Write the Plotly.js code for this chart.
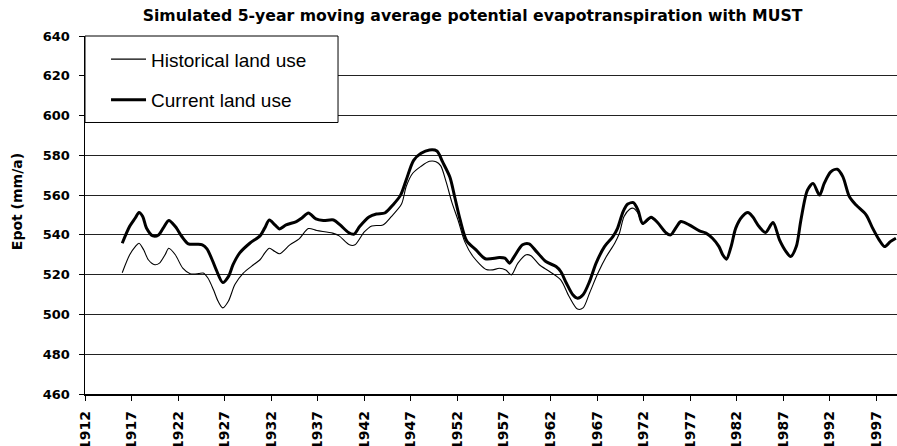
<!DOCTYPE html>
<html>
<head>
<meta charset="utf-8">
<script src="https://cdn.plot.ly/plotly-3.0.1.min.js"></script>
<style>
  html, body { margin: 0; padding: 0; background: #fff; }
  #chart { width: 897px; height: 446px; }
</style>
</head>
<body>
<div id="chart"></div>
<script>
// Years (fractional) and 5-year moving average Epot (mm/a)
var yearsCurrent = [1916.0, 1916.8, 1917.4, 1917.8, 1918.2, 1918.6, 1919.3, 1919.9, 1920.4, 1921.0,
  1921.7, 1922.4, 1923.1, 1924.0, 1924.6, 1925.1, 1925.7, 1926.1, 1926.8, 1927.4,
  1927.9, 1928.6, 1929.7, 1930.8, 1931.3, 1931.8, 1932.4, 1932.9, 1933.6, 1934.7,
  1935.3, 1936.0, 1936.8, 1937.6, 1938.7, 1939.4, 1940.3, 1940.9, 1941.5, 1942.5,
  1943.3, 1944.2, 1945.1, 1945.9, 1946.5, 1947.3, 1948.1, 1949.0, 1949.8, 1950.4,
  1951.2, 1951.7, 1952.3, 1953.0, 1954.0, 1955.0, 1956.5, 1957.1, 1957.6, 1958.1,
  1959.0, 1959.7, 1960.5, 1961.5, 1962.6, 1963.1, 1963.7, 1964.4, 1964.9, 1965.5,
  1966.2, 1966.9, 1967.8, 1968.7, 1969.2, 1969.8, 1970.3, 1970.9, 1971.4, 1971.9,
  1972.8, 1973.5, 1974.4, 1974.9, 1975.5, 1976.0, 1976.9, 1978.0, 1978.7, 1979.4,
  1980.1, 1980.5, 1980.9, 1981.4, 1981.9, 1982.6, 1983.2, 1983.7, 1984.4, 1985.1,
  1985.9, 1986.6, 1987.3, 1987.8, 1988.4, 1988.9, 1989.6, 1990.2, 1990.9, 1991.4,
  1992.1, 1992.8, 1993.4, 1994.1, 1994.8, 1995.9, 1996.6, 1997.3, 1997.9, 1998.5,
  1999.1];
var epotCurrent = [535.8, 544.3, 548.5, 551.3, 549.3, 543.5, 539.5, 540.0, 543.4, 547.2,
  544.2, 539.2, 535.5, 535.3, 535.0, 533.0, 527.0, 522.4, 516.0, 519.0,
  525.0, 530.8, 535.8, 539.5, 543.4, 547.5, 545.0, 543.0, 545.0, 546.7,
  548.5, 551.0, 548.0, 547.2, 547.5, 545.0, 541.2, 540.4, 544.2, 549.0,
  550.5, 551.0, 555.2, 560.0, 567.6, 577.5, 581.0, 582.7, 582.2, 576.8,
  569.0, 559.3, 547.5, 537.0, 532.5, 528.0, 528.6, 528.3, 525.8, 529.1,
  535.0, 535.5, 531.6, 526.6, 524.1, 521.6, 515.8, 509.9, 508.2, 509.9,
  516.6, 525.8, 534.1, 539.1, 543.3, 551.7, 555.5, 556.2, 552.5, 545.8,
  548.9, 546.2, 541.1, 540.0, 543.8, 546.7, 545.0, 542.0, 540.9, 538.3,
  534.1, 530.0, 527.8, 534.1, 543.4, 549.2, 551.2, 549.2, 544.2, 541.2,
  546.2, 537.5, 531.6, 529.1, 534.1, 547.5, 562.5, 565.9, 560.0, 565.9,
  571.7, 573.0, 569.3, 559.3, 555.1, 550.1, 543.4, 537.5, 534.1, 536.6,
  538.3];

var yearsHistorical = [1916.0, 1916.8, 1917.4, 1917.8, 1918.3, 1918.8, 1919.5, 1920.0, 1920.6, 1921.0,
  1921.7, 1922.5, 1923.3, 1924.2, 1924.7, 1925.2, 1925.8, 1926.3, 1926.8, 1927.4,
  1928.1, 1929.0, 1930.1, 1930.8, 1931.3, 1931.8, 1932.4, 1932.9, 1934.0, 1935.0,
  1936.0, 1936.9, 1938.6, 1939.3, 1940.4, 1941.0, 1942.0, 1942.8, 1944.0, 1944.9,
  1946.0, 1946.5, 1947.2, 1948.1, 1949.0, 1949.7, 1950.2, 1950.8, 1951.4, 1952.1,
  1952.8, 1953.7, 1955.1, 1955.8, 1956.5, 1957.2, 1957.8, 1958.5, 1959.4, 1959.9,
  1960.8, 1961.9, 1963.1, 1964.0, 1964.9, 1965.5, 1966.2, 1967.1, 1968.0, 1968.9,
  1969.4, 1969.9, 1970.5, 1970.9, 1971.4, 1971.9, 1972.8, 1973.5, 1974.4, 1974.9,
  1975.5, 1976.0, 1976.9, 1978.0, 1978.7, 1979.4, 1980.1, 1980.5, 1980.9, 1981.4,
  1981.9, 1982.6, 1983.2, 1983.7, 1984.4, 1985.1, 1985.9, 1986.6, 1987.3, 1987.8,
  1988.4, 1988.9, 1989.6, 1990.2, 1990.9, 1991.4, 1992.1, 1992.8, 1993.4, 1994.1,
  1994.8, 1995.9, 1996.6, 1997.3, 1997.9, 1998.5, 1999.1];
var epotHistorical = [521.0, 530.0, 534.1, 535.8, 532.5, 527.5, 525.0, 525.8, 530.0, 533.3,
  530.0, 523.3, 520.5, 520.5, 520.8, 518.3, 512.4, 506.6, 503.3, 506.6,
  515.0, 520.8, 525.0, 527.5, 530.8, 533.3, 531.6, 530.5, 535.0, 538.0,
  543.2, 542.2, 540.9, 539.5, 535.0, 535.0, 541.5, 544.5, 545.0, 549.2,
  555.5, 564.3, 571.0, 574.5, 577.0, 576.8, 574.8, 566.5, 556.5, 547.0,
  536.5, 529.0, 522.6, 522.4, 523.2, 522.4, 519.9, 525.8, 530.0, 529.5,
  525.0, 521.6, 517.4, 509.0, 502.7, 503.3, 510.8, 520.8, 529.1, 535.8,
  540.8, 549.2, 552.9, 553.4, 550.9, 545.3, 548.4, 546.2, 541.1, 540.0,
  543.8, 546.7, 545.0, 542.0, 540.9, 538.3, 534.1, 530.0, 527.8, 534.1,
  543.4, 549.2, 551.2, 549.2, 544.2, 541.2, 546.2, 537.5, 531.6, 529.1,
  534.1, 547.5, 562.5, 565.9, 560.0, 565.9, 571.7, 573.0, 569.3, 559.3,
  555.1, 550.1, 543.4, 537.5, 534.1, 536.6, 538.3];

var seriesNames = ['Historical land use', 'Current land use'];
var titleText = 'Simulated 5-year moving average potential evapotranspiration with MUST';
var yTitle = 'Epot (mm/a)';

var boldTick = {family: 'DejaVu Sans', size: 13, weight: 'bold', color: '#000'};

var traces = [
  {x: yearsHistorical, y: epotHistorical, name: seriesNames[0], type: 'scatter', mode: 'lines',
   legendgroup: 'h', line: {color: '#000', width: 1.1, shape: 'spline', smoothing: 0.8}},
  {x: yearsCurrent, y: epotCurrent, name: seriesNames[1], type: 'scatter', mode: 'lines',
   legendgroup: 'c', line: {color: '#000', width: 3, shape: 'spline', smoothing: 0.8}}
];

var layout = {
  width: 897, height: 446,
  margin: {l: 85, r: 0, t: 36, b: 52, pad: 0},
  paper_bgcolor: '#fff', plot_bgcolor: '#fff',
  title: {text: titleText, font: {family: 'DejaVu Sans', size: 15.7, weight: 'bold', color: '#000'},
          x: 0.5268, xref: 'container', xanchor: 'center', y: 0.966, yref: 'container', yanchor: 'middle'},
  xaxis: {range: [1912, 1999.22], tickmode: 'linear', tick0: 1912, dtick: 5,
          ticks: 'outside', ticklen: 5, tickwidth: 1, tickcolor: '#000', tickangle: -90,
          ticklabelstandoff: 5,
          tickfont: {family: 'DejaVu Sans', size: 14, weight: 'bold', color: '#000'},
          showline: true, linecolor: '#000', linewidth: 1.5, showgrid: false, zeroline: false,
          fixedrange: true},
  yaxis: {range: [460, 640], tickmode: 'linear', tick0: 460, dtick: 20,
          ticks: 'outside', ticklen: 5, tickwidth: 1, tickcolor: '#000',
          ticklabelstandoff: 6,
          tickfont: boldTick,
          showline: true, linecolor: '#000', linewidth: 1.5,
          showgrid: true, gridcolor: '#222', gridwidth: 1, zeroline: false,
          fixedrange: true},
  annotations: [{text: yTitle, textangle: -90, xref: 'paper', yref: 'paper',
                 x: -0.0837, y: 0.536, xanchor: 'center', yanchor: 'middle', showarrow: false,
                 font: {family: 'DejaVu Sans', size: 14, weight: 'bold', color: '#000'}}],
  showlegend: true,
  legend: {x: 0.0259, y: 0.988, xanchor: 'left', yanchor: 'top', traceorder: 'grouped',
           tracegroupgap: 13, bgcolor: 'rgba(0,0,0,0)', borderwidth: 0, itemwidth: 35,
           font: {family: 'Liberation Sans, Arial', size: 19, color: '#000'}},
  shapes: [{type: 'rect', xref: 'paper', yref: 'paper', x0: 0, x1: 0.3116, y0: 0.7584, y1: 1,
            line: {color: '#000', width: 1}, fillcolor: '#fff', layer: 'above'}]
};

Plotly.newPlot('chart', traces, layout, {displayModeBar: false, staticPlot: true});
</script>
</body>
</html>
